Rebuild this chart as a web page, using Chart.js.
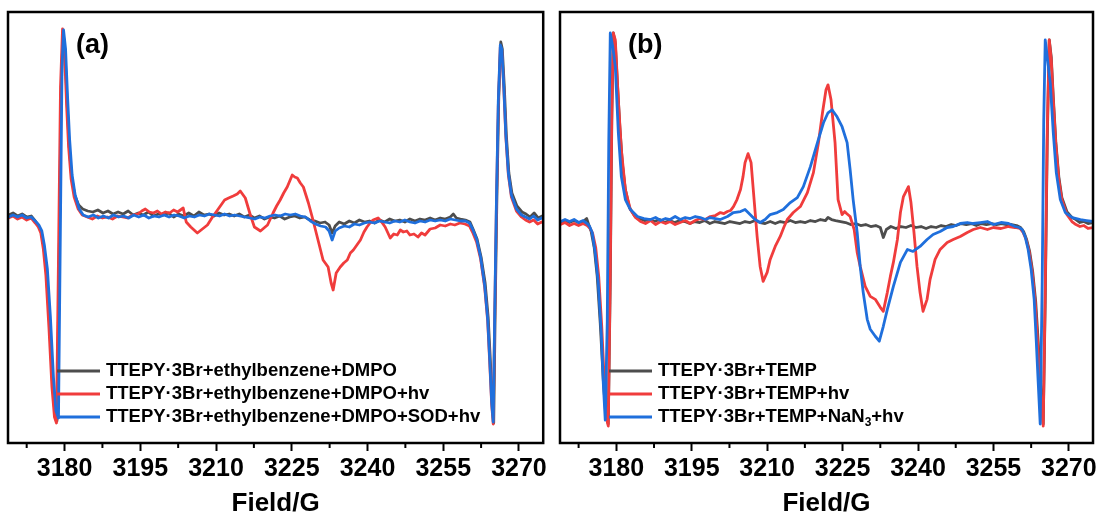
<!DOCTYPE html>
<html>
<head>
<meta charset="utf-8">
<script src="https://cdn.jsdelivr.net/npm/chart.js@4.4.1/dist/chart.umd.min.js"></script>
<style>
    body { margin: 0; background: #fff; }
    #wrap { position: relative; width: 1100px; height: 517px; }
    canvas { position: absolute; top: 0; }
</style>
</head>
<body>
<div id="wrap">
    <canvas id="chart_a" width="550" height="517" style="left:0"></canvas>
    <canvas id="chart_b" width="550" height="517" style="left:550px"></canvas>
</div>
<script>
// x axis ticks (Field, G)
const fieldTicks = [3180, 3195, 3210, 3225, 3240, 3255, 3270];
const minorTicks = [3172.5, 3187.5, 3202.5, 3217.5, 3232.5, 3247.5, 3262.5];

const labelsA = [
    "TTEPY·3Br+ethylbenzene+DMPO",
    "TTEPY·3Br+ethylbenzene+DMPO+hv",
    "TTEPY·3Br+ethylbenzene+DMPO+SOD+hv"
];
const labelsB = [
    "TTEPY·3Br+TEMP",
    "TTEPY·3Br+TEMP+hv",
    "TTEPY·3Br+TEMP+NaN_3+hv"
];

// panel (a) spectra: [field G, intensity a.u.]
const grayA = [[3168.9,2],[3169.8,4],[3170.7,1],[3171.6,3],[3172.5,0],[3173.4,1],[3174.2,-4],[3174.9,-9],[3175.4,-15],[3175.9,-30],[3176.4,-55],[3177.0,-105],[3177.6,-165],[3178.1,-198],[3178.5,-204],[3178.9,-60],[3179.3,120],[3179.7,186],[3180.1,165],[3180.5,115],[3180.9,72],[3181.4,40],[3182.0,22],[3182.8,12],[3183.6,8],[3184.6,6],[3185.6,5],[3186.6,7],[3187.6,4],[3188.6,6],[3189.6,3],[3190.6,5],[3191.6,3],[3192.6,6],[3193.6,2],[3194.6,4],[3195.6,2],[3196.6,5],[3197.6,1],[3198.6,3],[3199.6,2],[3200.6,4],[3201.6,0],[3202.6,3],[3203.6,1],[3204.6,4],[3205.6,1],[3206.6,5],[3207.6,2],[3208.6,3],[3209.6,1],[3210.6,4],[3211.6,2],[3212.6,3],[3213.6,1],[3214.6,3],[3215.6,0],[3216.6,2],[3217.6,-1],[3218.6,1],[3219.6,-2],[3220.6,0],[3221.6,-1],[3222.6,1],[3223.6,-2],[3224.6,0],[3225.6,1],[3226.6,-1],[3227.6,0],[3228.6,-3],[3229.6,-4],[3230.6,-6],[3231.6,-5],[3232.4,-8],[3233.0,-16],[3233.6,-9],[3234.4,-5],[3235.4,-7],[3236.4,-4],[3237.4,-6],[3238.4,-3],[3239.4,-5],[3240.4,-4],[3241.4,-6],[3242.4,-3],[3243.4,-5],[3244.4,-2],[3245.4,-4],[3246.4,-3],[3247.4,-5],[3248.4,-2],[3249.4,-4],[3250.4,-2],[3251.4,-3],[3252.4,-1],[3253.4,-3],[3254.4,-1],[3255.4,-2],[3256.4,0],[3257.0,3],[3257.6,-1],[3258.4,-2],[3259.4,-3],[3260.3,-5],[3260.9,-12],[3261.7,-22],[3262.5,-40],[3263.3,-66],[3263.9,-100],[3264.3,-140],[3264.7,-185],[3265.0,-206],[3265.3,-90],[3265.6,10],[3266.0,120],[3266.4,175],[3266.7,168],[3267.1,130],[3267.5,82],[3268.0,44],[3268.6,24],[3269.6,11],[3270.6,5],[3271.4,3],[3272.2,0],[3273.0,4],[3273.8,-1],[3274.6,1],[3275.2,-1]];
const redA = [[3168.9,-1],[3169.8,1],[3170.7,-2],[3171.6,0],[3172.5,-3],[3173.4,-1],[3174.2,-6],[3174.8,-10],[3175.3,-16],[3175.8,-32],[3176.3,-58],[3176.9,-110],[3177.5,-170],[3178.0,-200],[3178.4,-206],[3178.8,-40],[3179.2,130],[3179.6,188],[3180.0,165],[3180.4,112],[3180.8,70],[3181.3,38],[3181.9,20],[3182.7,8],[3183.5,2],[3184.5,0],[3185.5,-2],[3186.5,1],[3187.5,-1],[3188.5,0],[3189.5,-2],[3190.5,1],[3191.5,0],[3192.5,-1],[3193.5,2],[3194.5,3],[3195.3,6],[3196.0,8],[3196.8,5],[3197.6,4],[3198.4,6],[3199.2,3],[3200.0,5],[3200.8,4],[3201.6,7],[3202.4,5],[3203.5,9],[3204.1,-5],[3205.0,-10],[3206.3,-16],[3207.3,-12],[3208.3,-8],[3209.3,0],[3210.3,7],[3211.0,12],[3211.7,17],[3212.5,19],[3213.4,21],[3214.2,23],[3214.8,26],[3215.8,19],[3216.8,2],[3217.6,-10],[3218.8,-14],[3219.5,-11],[3220.2,-8],[3221.3,4],[3222.0,11],[3222.7,17],[3223.4,24],[3224.1,30],[3225.1,42],[3225.6,40],[3226.1,39],[3226.7,34],[3227.3,30],[3227.8,22],[3228.3,14],[3229.1,-1],[3230.2,-23],[3231.2,-43],[3232.2,-50],[3232.8,-66],[3233.2,-73],[3233.8,-56],[3234.6,-50],[3235.3,-46],[3236.0,-43],[3236.6,-36],[3237.2,-33],[3237.9,-28],[3238.6,-23],[3239.3,-15],[3239.9,-10],[3240.5,-6],[3241.1,-3],[3242.1,-1],[3242.8,-5],[3243.5,-10],[3244.5,-21],[3245.2,-17],[3245.9,-18],[3246.5,-13],[3247.1,-15],[3247.8,-14],[3248.4,-18],[3249.2,-17],[3250.0,-20],[3250.7,-16],[3251.4,-18],[3252.4,-12],[3253.4,-11],[3254.4,-8],[3255.4,-9],[3256.4,-7],[3257.3,-8],[3258.3,-6],[3259.3,-7],[3260.2,-9],[3260.8,-15],[3261.6,-25],[3262.4,-42],[3263.2,-70],[3263.8,-104],[3264.2,-145],[3264.6,-188],[3264.9,-207],[3265.2,-100],[3265.5,0],[3265.9,110],[3266.3,170],[3266.6,166],[3267.0,128],[3267.4,80],[3267.9,42],[3268.5,20],[3269.5,6],[3270.5,0],[3271.3,-3],[3272.1,-5],[3272.9,-3],[3273.7,-7],[3274.5,-5],[3275.2,-7]];
const blueA = [[3168.9,0],[3169.8,2],[3170.7,0],[3171.6,2],[3172.5,-1],[3173.4,0],[3174.2,-4],[3174.9,-8],[3175.5,-14],[3176.0,-28],[3176.6,-52],[3177.2,-100],[3177.8,-160],[3178.3,-194],[3178.8,-201],[3179.2,0],[3179.5,150],[3179.8,187],[3180.2,168],[3180.6,120],[3181.0,78],[3181.5,42],[3182.1,22],[3182.9,8],[3183.7,2],[3184.7,0],[3185.7,2],[3186.7,-1],[3187.7,1],[3188.7,-1],[3189.7,2],[3190.7,0],[3191.7,1],[3192.7,-1],[3193.7,2],[3194.7,0],[3195.7,2],[3196.7,-1],[3197.7,1],[3198.7,0],[3199.7,2],[3200.7,0],[3201.7,2],[3202.7,1],[3203.7,-1],[3204.7,1],[3205.7,0],[3206.7,2],[3207.7,1],[3208.7,3],[3209.7,2],[3210.7,1],[3211.7,3],[3212.7,1],[3213.7,2],[3214.7,1],[3215.7,0],[3216.7,-1],[3217.7,-2],[3218.7,0],[3219.7,-1],[3220.7,1],[3221.7,2],[3222.7,1],[3223.7,3],[3224.7,2],[3225.7,3],[3226.7,1],[3227.7,0],[3228.7,-4],[3229.7,-7],[3230.7,-9],[3231.7,-10],[3232.4,-14],[3233.0,-23],[3233.6,-14],[3234.4,-11],[3235.4,-9],[3236.4,-10],[3237.4,-7],[3238.4,-8],[3239.4,-6],[3240.4,-5],[3241.4,-6],[3242.4,-4],[3243.4,-5],[3244.4,-6],[3245.4,-4],[3246.4,-5],[3247.4,-3],[3248.4,-5],[3249.4,-6],[3250.4,-4],[3251.4,-5],[3252.4,-3],[3253.4,-4],[3254.4,-3],[3255.4,-4],[3256.4,-2],[3257.4,-3],[3258.4,-4],[3259.4,-4],[3260.2,-6],[3260.8,-12],[3261.6,-22],[3262.4,-40],[3263.2,-68],[3263.8,-102],[3264.2,-142],[3264.6,-186],[3264.9,-205],[3265.2,-95],[3265.5,5],[3265.9,115],[3266.3,172],[3266.6,168],[3267.0,130],[3267.4,82],[3267.9,44],[3268.5,22],[3269.5,8],[3270.5,2],[3271.3,0],[3272.1,-2],[3272.9,1],[3273.7,-3],[3274.5,-1],[3275.2,-3]];

// panel (b) spectra
const grayB = [[3168.9,-1],[3169.8,1],[3170.7,-1],[3171.6,1],[3172.5,-1],[3173.4,0],[3174.1,3],[3174.5,-3],[3175.0,-10],[3175.6,-26],[3176.2,-55],[3176.8,-102],[3177.4,-158],[3177.9,-194],[3178.4,-203],[3178.8,-60],[3179.1,100],[3179.4,189],[3179.8,178],[3180.2,140],[3180.7,95],[3181.2,58],[3181.8,32],[3182.6,14],[3183.6,6],[3184.6,3],[3185.6,1],[3186.6,2],[3187.6,0],[3188.6,2],[3189.6,-1],[3190.6,1],[3191.6,-1],[3192.6,1],[3193.6,0],[3194.6,-2],[3195.6,0],[3196.6,-1],[3197.6,1],[3198.6,-2],[3199.6,0],[3200.6,-1],[3201.6,-2],[3202.6,0],[3203.6,-1],[3204.6,-2],[3205.6,0],[3206.6,-1],[3207.6,1],[3208.6,-1],[3209.6,-2],[3210.6,0],[3211.6,-2],[3212.6,0],[3213.6,-1],[3214.6,1],[3215.6,-1],[3216.6,0],[3217.6,-1],[3218.6,1],[3219.6,0],[3220.6,2],[3221.6,1],[3222.1,4],[3222.8,2],[3223.6,1],[3224.6,0],[3225.6,-1],[3226.6,-3],[3227.6,-2],[3228.6,-4],[3229.6,-3],[3230.6,-5],[3231.6,-4],[3232.5,-6],[3233.1,-16],[3233.7,-8],[3234.6,-5],[3235.6,-7],[3236.6,-5],[3237.6,-6],[3238.6,-4],[3239.6,-6],[3240.6,-5],[3241.6,-7],[3242.6,-5],[3243.6,-6],[3244.6,-4],[3245.6,-5],[3246.6,-3],[3247.6,-4],[3248.6,-2],[3249.6,-3],[3250.6,-2],[3251.6,-4],[3252.6,-2],[3253.6,-3],[3254.6,-2],[3255.6,-3],[3256.6,-2],[3257.6,-3],[3258.6,-3],[3259.6,-4],[3260.4,-6],[3261.0,-10],[3261.6,-18],[3262.2,-30],[3262.8,-50],[3263.4,-80],[3263.9,-120],[3264.4,-165],[3264.9,-203],[3265.3,-80],[3265.7,80],[3266.1,182],[3266.5,165],[3266.9,125],[3267.4,80],[3268.0,45],[3268.6,24],[3269.6,10],[3270.6,4],[3271.4,2],[3272.2,-1],[3273.0,0],[3273.8,-2],[3274.8,-1]];
const redB = [[3168.9,-3],[3169.8,-1],[3170.7,-4],[3171.6,-2],[3172.5,-4],[3173.4,-2],[3174.2,-4],[3174.8,-7],[3175.3,-12],[3175.9,-26],[3176.5,-55],[3177.1,-105],[3177.6,-160],[3178.0,-196],[3178.4,-205],[3178.8,-50],[3179.1,110],[3179.4,189],[3179.8,182],[3180.4,122],[3181.0,72],[3181.8,32],[3182.8,12],[3183.8,4],[3184.8,0],[3185.8,-2],[3186.8,1],[3187.8,-3],[3188.8,0],[3189.8,-2],[3190.7,0],[3191.7,-3],[3192.7,-1],[3193.7,1],[3194.7,-2],[3195.7,1],[3196.7,3],[3197.7,2],[3198.7,5],[3199.7,6],[3200.7,9],[3201.4,8],[3202.1,10],[3202.7,11],[3203.3,15],[3204.0,22],[3204.7,32],[3205.2,45],[3205.6,59],[3206.2,68],[3206.8,59],[3207.4,22],[3208.0,-15],[3208.6,-45],[3209.2,-60],[3210.0,-51],[3210.6,-38],[3211.6,-25],[3212.6,-15],[3213.3,-6],[3214.0,2],[3215.2,9],[3216.6,15],[3218.0,29],[3219.2,49],[3220.2,79],[3221.0,109],[3221.7,132],[3222.1,137],[3222.7,122],[3223.5,79],[3224.1,22],[3224.9,7],[3225.4,10],[3225.8,8],[3226.5,5],[3227.3,-8],[3227.9,-31],[3228.5,-45],[3229.5,-65],[3230.5,-75],[3231.5,-78],[3232.5,-86],[3233.1,-90],[3233.9,-71],[3234.5,-55],[3235.1,-41],[3235.9,-18],[3236.5,9],[3237.1,25],[3238.1,35],[3238.6,19],[3239.2,-11],[3239.8,-45],[3240.4,-71],[3241.0,-90],[3241.8,-78],[3242.4,-58],[3243.4,-38],[3244.4,-28],[3245.8,-21],[3247.0,-18],[3248.4,-15],[3249.8,-11],[3251.0,-8],[3252.4,-6],[3253.8,-8],[3255.0,-6],[3256.5,-7],[3258.0,-5],[3259.3,-6],[3260.3,-7],[3260.9,-11],[3261.5,-18],[3262.1,-30],[3262.7,-50],[3263.3,-80],[3263.8,-122],[3264.3,-168],[3264.9,-205],[3265.3,-70],[3265.7,90],[3266.1,182],[3266.5,162],[3266.9,122],[3267.4,78],[3268.0,42],[3268.6,22],[3269.6,7],[3270.6,0],[3271.4,-3],[3272.2,-5],[3273.0,-4],[3273.8,-7],[3274.8,-6]];
const blueB = [[3168.9,0],[3169.8,2],[3170.7,0],[3171.6,2],[3172.5,-1],[3173.4,1],[3174.2,-2],[3174.7,-5],[3175.2,-11],[3175.8,-31],[3176.4,-61],[3177.0,-111],[3177.4,-161],[3177.8,-199],[3178.2,-100],[3178.5,80],[3178.8,189],[3179.3,175],[3179.8,155],[3180.4,89],[3181.0,45],[3181.8,22],[3182.8,12],[3184.2,5],[3185.5,3],[3186.8,2],[3187.8,4],[3188.8,1],[3189.8,3],[3190.7,2],[3191.7,5],[3192.7,2],[3193.7,4],[3194.7,3],[3195.7,5],[3196.7,4],[3197.7,2],[3198.7,4],[3199.7,3],[3200.7,2],[3202.1,5],[3203.3,9],[3204.7,10],[3205.6,12],[3206.6,7],[3207.6,2],[3208.6,-1],[3209.6,2],[3210.6,7],[3212.0,9],[3213.2,12],[3214.6,19],[3216.0,24],[3217.2,35],[3218.6,55],[3220.0,79],[3221.2,99],[3222.1,109],[3222.9,112],[3223.9,105],[3224.9,95],[3225.9,79],[3226.5,52],[3227.1,22],[3227.9,-11],[3228.5,-45],[3229.1,-71],[3229.9,-98],[3230.5,-108],[3231.5,-115],[3232.3,-120],[3233.1,-105],[3233.9,-88],[3235.1,-65],[3236.5,-41],[3237.9,-28],[3239.0,-30],[3240.4,-25],[3241.8,-18],[3243.0,-13],[3244.4,-10],[3245.8,-6],[3247.0,-5],[3248.4,-2],[3249.8,-1],[3251.0,-2],[3252.4,-1],[3253.8,0],[3255.0,-3],[3256.5,-1],[3258.0,-2],[3259.3,-5],[3260.1,-6],[3260.7,-8],[3261.3,-15],[3261.9,-28],[3262.5,-48],[3263.1,-78],[3263.5,-118],[3263.9,-161],[3264.3,-203],[3264.7,-60],[3265.0,100],[3265.3,182],[3265.7,165],[3266.3,139],[3266.9,89],[3267.5,49],[3268.3,22],[3269.3,9],[3270.7,4],[3272.3,2],[3273.5,1],[3274.8,0]];

const lineColors = ["#4d4d4d", "#f03c3c", "#1f6fdc"];
const FONT = '"Liberation Sans", Arial, sans-serif';
Chart.defaults.font.family = FONT;

// frame, minor ticks, panel tag and inside legend
const panelDecor = {
    id: 'panelDecor',
    afterDraw(chart, args, opts) {
        const { ctx, chartArea: a } = chart;
        const x = chart.scales.x;
        ctx.save();
        ctx.strokeStyle = '#000';
        ctx.lineWidth = 2;
        minorTicks.forEach(v => {
            const px = x.getPixelForValue(v);
            ctx.beginPath();
            ctx.moveTo(px, a.bottom);
            ctx.lineTo(px, a.bottom + 5);
            ctx.stroke();
        });
        ctx.lineWidth = 2.5;
        ctx.strokeRect(a.left, a.top, a.right - a.left, a.bottom - a.top);

        ctx.fillStyle = '#000';
        ctx.textBaseline = 'middle';
        ctx.font = 'bold 27px ' + FONT;
        ctx.fillText(opts.tag, a.left + 68, a.top + 34);

        const rows = [-72, -49, -26];
        chart.data.datasets.forEach((ds, i) => {
            const y = a.bottom + rows[i];
            ctx.strokeStyle = ds.borderColor;
            ctx.lineWidth = 3;
            ctx.beginPath();
            ctx.moveTo(a.left + 49, y);
            ctx.lineTo(a.left + 92, y);
            ctx.stroke();
            // label, "_3" means subscript 3
            let tx = a.left + 98;
            ds.label.split(/_(\d)/).forEach((part, k) => {
                if (k % 2 === 1) {
                    ctx.font = 'bold 12px ' + FONT;
                    ctx.fillText(part, tx, y + 6);
                } else {
                    ctx.font = 'bold 18.5px ' + FONT;
                    ctx.fillText(part, tx, y);
                }
                tx += ctx.measureText(part).width;
            });
        });
        ctx.restore();
    }
};

function createPanel(canvasId, tag, labels, series, yMin, yMax, padLeft, padRight) {
    const ctx = document.getElementById(canvasId).getContext('2d');
    const datasets = series.map((s, i) => ({
        label: labels[i],
        data: s.map(p => ({ x: p[0], y: p[1] })),
        borderColor: lineColors[i],
        borderWidth: 2.8,
        borderJoinStyle: 'round',
        pointRadius: 0,
        tension: 0,
        fill: false,
        order: 3 - i,
    }));
    return new Chart(ctx, {
        type: 'line',
        data: { datasets: datasets },
        options: {
            responsive: false,
            animation: false,
            layout: { padding: { left: padLeft, right: padRight, top: 12, bottom: 0 } },
            plugins: {
                legend: { display: false },
                tooltip: { enabled: false },
                panelDecor: { tag: tag },
            },
            scales: {
                x: {
                    type: 'linear',
                    min: 3168.8,
                    max: 3274.8,
                    afterBuildTicks: (scale) => { scale.ticks = fieldTicks.map(v => ({ value: v })); },
                    afterFit: (scale) => { scale.height = 74; },
                    grid: { drawOnChartArea: false, drawTicks: true, tickLength: 8, tickWidth: 2, tickColor: '#000' },
                    border: { display: false },
                    ticks: {
                        autoSkip: false,
                        maxRotation: 0,
                        padding: 3,
                        color: '#000',
                        font: { size: 25, weight: 'bold' },
                        callback: (v) => String(v),
                    },
                    title: {
                        display: true,
                        text: 'Field/G',
                        color: '#000',
                        font: { size: 26, weight: 'bold', lineHeight: 1 },
                        padding: { top: 0, bottom: 0 },
                    },
                },
                y: { display: false, min: yMin, max: yMax },
            },
        },
        plugins: [panelDecor],
    });
}

createPanel('chart_a', '(a)', labelsA, [grayA, redA, blueA], -226, 205, 8, 5);
createPanel('chart_b', '(b)', labelsB, [grayB, redB, blueB], -222, 210, 10, 7);
</script>
</body>
</html>
